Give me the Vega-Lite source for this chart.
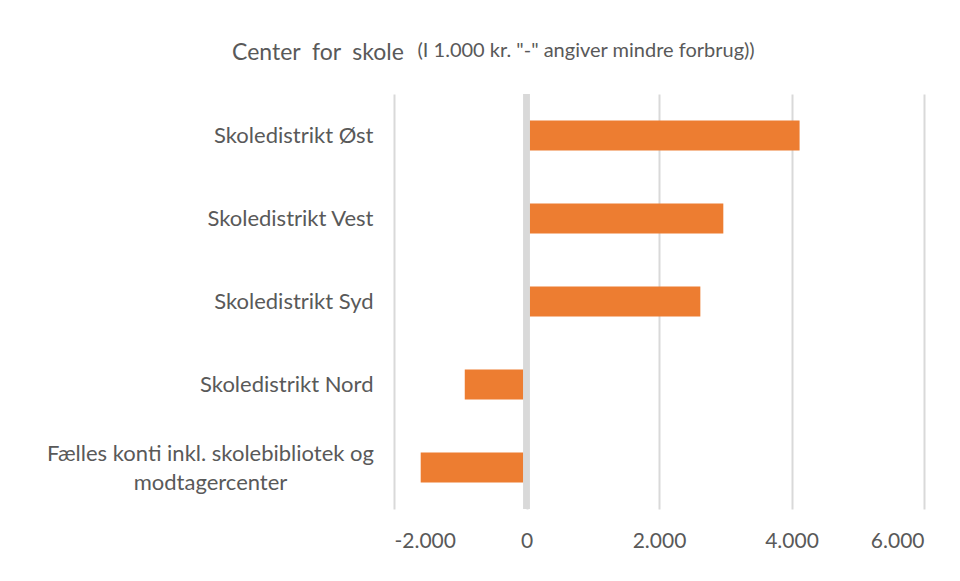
{
  "$schema": "https://vega.github.io/schema/vega-lite/v6.json",
  "width": 530,
  "height": 415,
  "autosize": "none",
  "padding": {"left": 394, "top": 94, "right": 36, "bottom": 72},
  "background": "white",
  "config": {"view": {"stroke": null}, "font": "Lato"},
  "title": {
    "text": "Center\u00a0 for\u00a0 skole",
    "anchor": "start",
    "frame": "group",
    "dx": -162,
    "offset": -36,
    "baseline": "middle",
    "fontSize": 23,
    "font": "Lato",
    "fontWeight": "normal",
    "color": "#595959"
  },
  "data": {
    "values": [
      {"name": "Skoledistrikt Øst", "value": 4122},
      {"name": "Skoledistrikt Vest", "value": 2971},
      {"name": "Skoledistrikt Syd", "value": 2624},
      {"name": "Skoledistrikt Nord", "value": -932},
      {"name": "Fælles konti inkl. skolebibliotek og modtagercenter", "value": -1597}
    ]
  },
  "layer": [
    {
      "mark": {"type": "bar", "color": "#ED7D31"},
      "encoding": {
        "y": {
          "field": "name",
          "type": "nominal",
          "sort": null,
          "scale": {"paddingInner": 0.64, "paddingOuter": 0.32},
          "axis": {
            "title": null,
            "domain": false,
            "ticks": false,
            "grid": false,
            "labelPadding": {"condition": {"test": "datum.value == 'Fælles konti inkl. skolebibliotek og modtagercenter'", "value": 184}, "value": 21},
            "labelAlign": {"condition": {"test": "datum.value == 'Fælles konti inkl. skolebibliotek og modtagercenter'", "value": "center"}, "value": "right"},
            "labelOffset": {"condition": {"test": "datum.value == 'Fælles konti inkl. skolebibliotek og modtagercenter'", "value": -14}, "value": 0},
            "labelFontSize": 22,
            "labelFont": "Lato",
            "labelColor": "#595959",
            "labelLimit": 500,
            "labelLineHeight": 29,
            "labelExpr": "datum.value == 'Fælles konti inkl. skolebibliotek og modtagercenter' ? ['Fælles konti inkl. skolebibliotek og', 'modtagercenter'] : datum.value"
          }
        },
        "x": {
          "field": "value",
          "type": "quantitative",
          "scale": {"domain": [-2000, 6000], "nice": false, "zero": false},
          "axis": {
            "title": null,
            "values": [-2000, 0, 2000, 4000, 6000],
            "domain": false,
            "ticks": false,
            "grid": true,
            "gridColor": "#D9D9D9",
            "gridWidth": 2,
            "labelPadding": 21,
            "labelFontSize": 21,
            "labelFont": "Lato",
            "labelColor": "#595959",
            "labelExpr": "(datum.value < 0 ? '-' : '') + replace(format(abs(datum.value), ','), ',', '.')"
          }
        }
      }
    },
    {
      "mark": {"type": "rule", "color": "#D9D9D9", "strokeWidth": 6},
      "encoding": {
        "x": {
          "datum": 0,
          "type": "quantitative",
          "axis": {
            "orient": "top",
            "title": "(I 1.000 kr. \"-\" angiver mindre forbrug))",
            "labels": false,
            "ticks": false,
            "domain": false,
            "grid": false,
            "titleFontSize": 20,
            "titleFont": "Lato",
            "titleFontWeight": "normal",
            "titleColor": "#595959",
            "titleAnchor": "start",
            "titleAlign": "left",
            "titleX": 23,
            "titleY": -44,
            "titleBaseline": "middle"
          }
        }
      }
    }
  ],
  "resolve": {"axis": {"x": "independent"}}
}
